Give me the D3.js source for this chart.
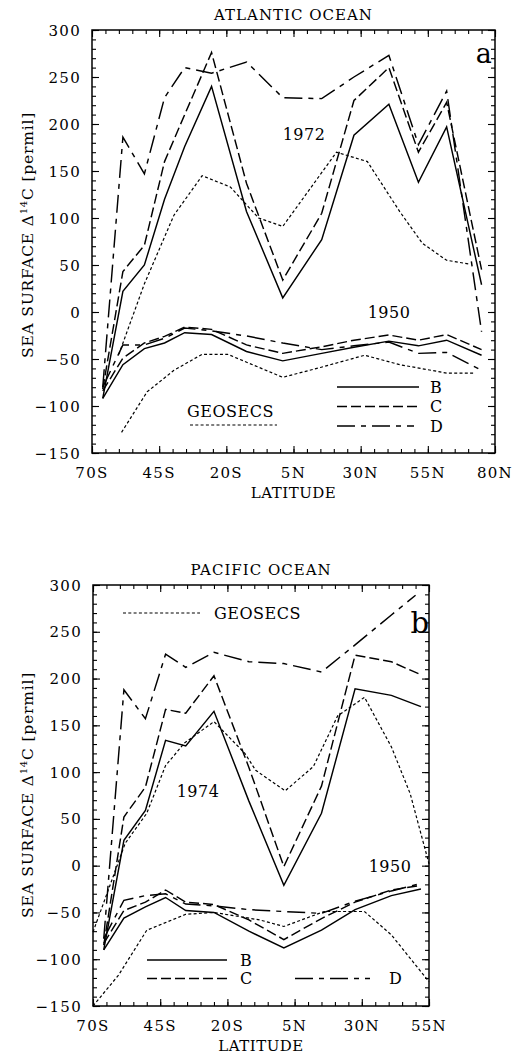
<!DOCTYPE html>
<html><head><meta charset="utf-8">
<script src="https://cdn.jsdelivr.net/npm/d3@7"></script>
<style>
body{margin:0;background:#fff}
svg{display:block}
text{font-family:"DejaVu Serif",serif;fill:#000}
</style>
</head><body>
<svg id="c" width="529" height="1058"></svg>
<script>
// ---------------- DATA ----------------
// Atlantic (panel a)
const atlLat      = [-66, -58.5, -50.5, -43, -35.5, -25.5, -12.5, 1, 15.5, 27.5, 40.5, 51.5, 62, 75];
const atlB1972    = [-92, 22, 50, 120, 176, 240, 107, 15, 77, 188, 221, 138, 197, 29];
const atlC1972    = [-82, 43, 71, 160, 210, 276, 137, 34, 105, 225, 260, 170, 223, 45];
const atlD1972    = [-80, 186, 147, 228, 260, 254, 266, 228, 227, 250, 273, 178, 235, -21];
const atlB1950    = [-92, -56, -39, -33, -22, -24, -42, -52, -44, -37.5, -31, -36, -30, -46];
const atlC1950    = [-84, -49, -33, -26, -16, -18.5, -35, -44, -37, -30, -24.5, -30, -24, -40];
const atlD1950    = [-80, -35, -35, -28, -17, -20, -25.5, -33, -40, -36, -32, -44, -43, -62];
const atlGeoLat72 = [-60, -50.5, -39.5, -29, -18.5, -8, 1, 21, 32.5, 44.5, 53, 62, 70.5];
const atlGeo72    = [-45, 30, 103, 145, 133, 100, 91, 170, 160, 107, 73, 55, 51];
const atlGeoLat50 = [-59, -49.5, -39.5, -29, -19.5, 1, 15, 31.5, 44.5, 62, 72.5];
const atlGeo50    = [-128, -85, -62, -45, -45, -69.5, -59, -46, -56, -65, -65];

// Pacific (panel b)
const pacLat      = [-66, -58.5, -50.5, -43, -35.5, -25, -12, 1, 15, 27.5, 41, 52];
const pacB1974    = [-90, 27, 59, 134, 128, 165, 69, -21, 56, 189, 182, 170];
const pacC1974    = [-85, 52, 84, 167, 163, 203, 105, -1, 85, 225, 218, 204];
const pacDLat74   = [-66, -58.5, -50.5, -43, -35.5, -25, -12, 1, 15, 27.5, 41, 50];
const pacD1974    = [-78, 188, 157, 226, 212, 228, 218, 216, 207, 236, 268, 289];
const pacB1950    = [-90, -56, -44, -34, -48, -50, -70, -88, -69, -47, -32, -25];
const pacC1950    = [-83, -48, -39, -26, -39, -41.5, -58, -79, -56.5, -39, -26, -21];
const pacD1950    = [-78, -37, -32, -30, -41, -43, -47, -49, -51, -38, -27, -19];
const pacGeoLat74 = [-70, -58, -50, -43, -36, -25, -13.5, -9.5, 1.5, 12, 21, 31, 41, 48, 55];
const pacGeo74    = [-71, 24, 56, 107, 131, 154, 120, 102, 80, 106, 160, 180, 127, 77, 2];
const pacGeoLat50 = [-70, -60.5, -50, -35.5, -25, -8, 1, 16, 31, 41, 55];
const pacGeo50    = [-150, -117, -69, -52, -50, -58, -65, -49, -49, -74, -124];

// Axis tick labels
const atlXTicks = [-70, -45, -20, 5, 30, 55, 80];
const atlXLabels = ["70S", "45S", "20S", "5N", "30N", "55N", "80N"];
const pacXTicks = [-70, -45, -20, 5, 30, 55];
const pacXLabels = ["70S", "45S", "20S", "5N", "30N", "55N"];
const yTicks = [-150, -100, -50, 0, 50, 100, 150, 200, 250, 300];
const yLabels = ["\u2212150", "\u2212100", "\u221250", "0", "50", "100", "150", "200", "250", "300"];

// ---------------- DRAW ----------------
const svg = d3.select("#c");
const zip = (a, b) => a.map((v, i) => [v, b[i]]);

const styles = {
  B: {dash: null},
  C: {dash: "10,4"},
  D: {dash: "18,6,5,6"},
  G: {dash: "3,2.3"}
};

function panel(cfg) {
  const g = svg.append("g");
  const x = d3.scaleLinear().domain([-70, cfg.xmax]).range([cfg.left, cfg.right]);
  const y = d3.scaleLinear().domain([-150, 300]).range([cfg.bottom, cfg.top]);

  const minorX = d3.range(-70, cfg.xmax + 0.1, 5);
  const minorY = d3.range(-150, 301, 10);

  const mk = (axis, tr, vals, size) => {
    const a = g.append("g").attr("transform", tr)
      .call(axis.tickValues(vals).tickSize(size).tickFormat(""));
    a.select(".domain").remove();
    a.selectAll("line").attr("stroke", "#000").attr("stroke-width", 1.1);
  };
  const majX = minorX.filter(v => (v + 70) % 25 === 0);
  const majY = minorY.filter(v => v % 50 === 0);
  mk(d3.axisBottom(x), `translate(0,${cfg.bottom})`, minorX, -4);
  mk(d3.axisBottom(x), `translate(0,${cfg.bottom})`, majX, -7);
  mk(d3.axisTop(x), `translate(0,${cfg.top})`, minorX, -4);
  mk(d3.axisTop(x), `translate(0,${cfg.top})`, majX, -7);
  mk(d3.axisLeft(y), `translate(${cfg.left},0)`, minorY, -4);
  mk(d3.axisLeft(y), `translate(${cfg.left},0)`, majY, -7);
  mk(d3.axisRight(y), `translate(${cfg.right},0)`, minorY, -4);
  mk(d3.axisRight(y), `translate(${cfg.right},0)`, majY, -7);

  g.append("rect").attr("x", cfg.left).attr("y", cfg.top)
    .attr("width", cfg.right - cfg.left).attr("height", cfg.bottom - cfg.top)
    .attr("fill", "none").attr("stroke", "#000").attr("stroke-width", 1.5);

  g.selectAll(".yl").data(yTicks).enter().append("text")
    .attr("x", cfg.left - 11).attr("y", d => y(d) + 5.5)
    .attr("text-anchor", "end").attr("font-size", 15).attr("letter-spacing", 1.3)
    .text((d, i) => yLabels[i]);
  g.selectAll(".xl").data(cfg.xTicks).enter().append("text")
    .attr("x", d => x(d)).attr("y", cfg.bottom + 25)
    .attr("text-anchor", "middle").attr("font-size", 15).attr("letter-spacing", 1.3)
    .text((d, i) => cfg.xLabels[i]);

  g.append("text").attr("x", (cfg.left + cfg.right) / 2).attr("y", cfg.bottom + 45)
    .attr("text-anchor", "middle").attr("font-size", 15).attr("letter-spacing", 0.5).text("LATITUDE");
  g.append("text").attr("x", (cfg.left + cfg.right) / 2).attr("y", cfg.top - 10)
    .attr("text-anchor", "middle").attr("font-size", 15).attr("letter-spacing", 1).text(cfg.title);
  const yl = g.append("text").attr("transform", `translate(33,${cfg.ylabelY}) rotate(-90)`)
    .attr("text-anchor", "middle").attr("font-size", 15.5).attr("letter-spacing", 0.8);
  yl.append("tspan").text("SEA SURFACE \u0394");
  yl.append("tspan").attr("font-size", 10).attr("dy", -6).text("14");
  yl.append("tspan").attr("dy", 6).text("C [permil]");

  const line = d3.line().x(d => x(d[0])).y(d => y(d[1]));
  cfg.series.forEach(s => {
    g.append("path").datum(zip(s.lat, s.val))
      .attr("d", line).attr("fill", "none").attr("stroke", "#000")
      .attr("stroke-width", s.k === "G" ? 1.2 : 1.45)
      .attr("stroke-dasharray", styles[s.k].dash);
  });

  cfg.notes.forEach(n => {
    g.append("text").attr("x", n.x).attr("y", n.y).attr("text-anchor", n.anchor || "start")
      .attr("font-size", n.size || 16).attr("letter-spacing", n.ls || 0.5)
      .attr("font-family", n.font || null).text(n.t);
  });
  cfg.legend.forEach(l => {
    g.append("line").attr("x1", l.x1).attr("x2", l.x2).attr("y1", l.y).attr("y2", l.y)
      .attr("stroke", "#000").attr("stroke-width", l.k === "G" ? 1.2 : 1.45)
      .attr("stroke-dasharray", styles[l.k].dash);
  });
}

panel({
  title: "ATLANTIC OCEAN", xmax: 80, left: 92, right: 495, top: 30, bottom: 453, ylabelY: 235,
  xTicks: atlXTicks, xLabels: atlXLabels,
  series: [
    {k: "B", lat: atlLat, val: atlB1972}, {k: "C", lat: atlLat, val: atlC1972}, {k: "D", lat: atlLat, val: atlD1972},
    {k: "B", lat: atlLat, val: atlB1950}, {k: "C", lat: atlLat, val: atlC1950}, {k: "D", lat: atlLat, val: atlD1950},
    {k: "G", lat: atlGeoLat72, val: atlGeo72}, {k: "G", lat: atlGeoLat50, val: atlGeo50}
  ],
  notes: [
    {t: "1972", x: 304, y: 140, anchor: "middle"},
    {t: "1950", x: 389, y: 318, anchor: "middle"},
    {t: "a", x: 484, y: 63, anchor: "middle", size: 27, font: "DejaVu Sans", ls: 0},
    {t: "B", x: 430, y: 393}, {t: "C", x: 430, y: 412}, {t: "D", x: 430, y: 432},
    {t: "GEOSECS", x: 187, y: 417, ls: 0}
  ],
  legend: [
    {k: "B", x1: 337, x2: 419, y: 387}, {k: "C", x1: 337, x2: 419, y: 406.5}, {k: "D", x1: 337, x2: 414, y: 426},
    {k: "G", x1: 190, x2: 277, y: 425}
  ]
});

panel({
  title: "PACIFIC OCEAN", xmax: 55, left: 93, right: 429, top: 585, bottom: 1006, ylabelY: 795,
  xTicks: pacXTicks, xLabels: pacXLabels,
  series: [
    {k: "B", lat: pacLat, val: pacB1974}, {k: "C", lat: pacLat, val: pacC1974}, {k: "D", lat: pacDLat74, val: pacD1974},
    {k: "B", lat: pacLat, val: pacB1950}, {k: "C", lat: pacLat, val: pacC1950}, {k: "D", lat: pacLat, val: pacD1950},
    {k: "G", lat: pacGeoLat74, val: pacGeo74}, {k: "G", lat: pacGeoLat50, val: pacGeo50}
  ],
  notes: [
    {t: "1974", x: 198, y: 797, anchor: "middle"},
    {t: "1950", x: 390, y: 872, anchor: "middle"},
    {t: "b", x: 420, y: 633, anchor: "middle", size: 29, ls: 0},
    {t: "B", x: 240, y: 966}, {t: "C", x: 240, y: 984}, {t: "D", x: 389, y: 984},
    {t: "GEOSECS", x: 214, y: 619, ls: 0}
  ],
  legend: [
    {k: "B", x1: 147, x2: 227, y: 960}, {k: "C", x1: 147, x2: 227, y: 978.5}, {k: "D", x1: 295, x2: 370, y: 978.5},
    {k: "G", x1: 123, x2: 200, y: 613}
  ]
});
</script>
</body></html>
